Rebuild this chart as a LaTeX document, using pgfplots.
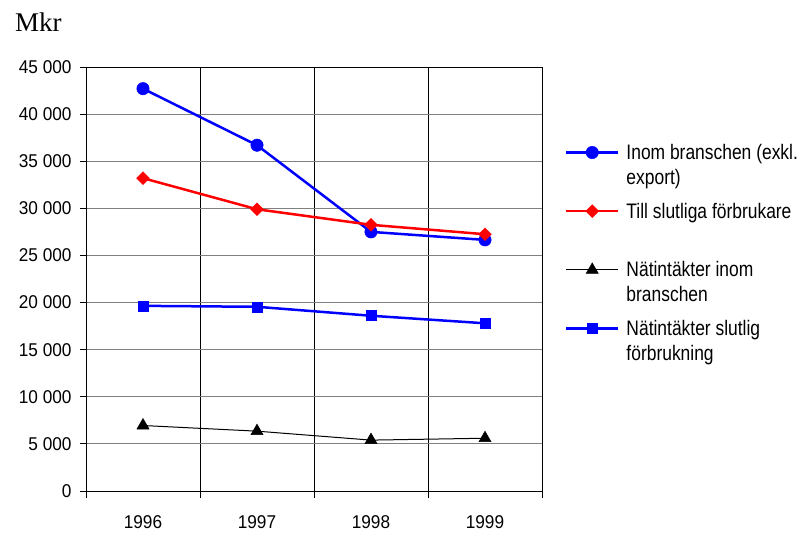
\documentclass[border=0pt]{standalone}
\usepackage{fontspec}
\setmainfont{Liberation Sans}
\newfontfamily\tickfont[FakeStretch=0.93]{Liberation Sans}
\newfontfamily\legfont[FakeStretch=0.83]{Liberation Sans}
\newfontfamily\seriffont{Liberation Serif}
\usepackage{pgfplots}
\pgfplotsset{compat=1.18}
\definecolor{gridgray}{RGB}{128,128,128}
\newcommand{\legtext}[1]{\parbox[t]{210bp}{#1}}
\begin{document}
\begin{tikzpicture}
\useasboundingbox (0,0) rectangle (801bp,539bp);
\begin{axis}[
  at={(86bp,48bp)}, anchor=south west,
  width=456bp, height=424bp, scale only axis,
  xmin=-0.5, xmax=3.5, ymin=0, ymax=45000,
  xtick={0,1,2,3}, xticklabels={1996,1997,1998,1999},
  minor xtick={-0.5,0.5,1.5,2.5,3.5},
  xminorgrids=true,
  minor x grid style={black, line width=0.9bp},
  ymajorgrids=true,
  major y grid style={gridgray, line width=0.9bp},
  ytick={0,5000,10000,15000,20000,25000,30000,35000,40000,45000},
  scaled y ticks=false,
  tick align=outside,
  xtick pos=bottom, ytick pos=left,
  major x tick style={draw=none},
  minor x tick style={black, line width=0.9bp},
  major y tick style={black, line width=0.9bp},
  minor tick length=7bp, major tick length=6bp,
  yticklabel style={xshift=-5bp, /pgf/number format/.cd, 1000 sep={\ }, assume math mode=true},
  xticklabel style={yshift=-15bp},
  ticklabel style={font=\tickfont\fontsize{18.5bp}{20bp}\selectfont},
  axis line style={black, line width=0.9bp},
  clip=false,
  legend image code/.code={\draw[mark repeat=2,mark phase=2,#1] plot coordinates {(0bp,7bp) (26bp,7bp) (52bp,7bp)};},
  legend style={at={(1.0504,0.8224)}, anchor=north west, draw=none, fill=none,
    inner sep=0pt, outer sep=0pt, column sep=5bp, row sep=38bp,
    font=\legfont\fontsize{21bp}{25bp}\selectfont},
  legend cell align=left,
  legend style={cells={anchor=base west, inner sep=0pt}},
]
\addplot[blue, line width=2.5bp, mark=*, mark size=6.2bp, mark options={solid, line width=0.5bp}]
  coordinates {(0,42700) (1,36700) (2,27500) (3,26650)};
\addlegendentry{\legtext{Inom branschen (exkl.\\export)}}
\addplot[red, line width=2.5bp, mark=square*, mark size=4.5bp, mark options={solid, rotate=45, line width=0.5bp}]
  coordinates {(0,33200) (1,29900) (2,28250) (3,27250)};
\addlegendentry{\legtext{Till slutliga förbrukare}}
\addplot[black, line width=1bp, mark=triangle*, mark size=7bp, mark options={solid, line width=0.5bp}]
  coordinates {(0,6950) (1,6350) (2,5400) (3,5600)};
\addlegendentry{\legtext{Nätintäkter inom\\branschen}}
\addplot[blue, line width=2.5bp, mark=square*, mark size=5bp, mark options={solid, line width=0.5bp}]
  coordinates {(0,19650) (1,19550) (2,18600) (3,17800)};
\addlegendentry{\legtext{Nätintäkter slutlig\\förbrukning}}
\end{axis}
\node[anchor=base west, inner sep=0pt, font=\seriffont\fontsize{27bp}{30bp}\selectfont] at (15bp,507bp) {Mkr};
\end{tikzpicture}
\end{document}
